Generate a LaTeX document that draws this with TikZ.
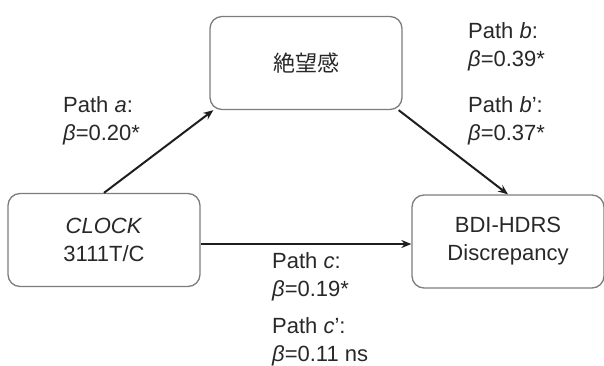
\documentclass[tikz,border=0pt]{standalone}
\usepackage{fontspec}
\setmainfont{Liberation Sans}
\newfontfamily\jpfont{Noto Sans CJK JP}
\usetikzlibrary{arrows.meta}
\definecolor{boxline}{RGB}{125,125,125}
\definecolor{inkgray}{RGB}{40,40,40}
\definecolor{arrowink}{RGB}{30,30,30}
\begin{document}
\begin{tikzpicture}[x=1pt,y=-1pt,
  every node/.style={font=\fontsize{22}{28}\selectfont, text=inkgray},
  varbox/.style={draw=boxline, line width=1.3pt, rounded corners=12pt,
    minimum width=192pt, minimum height=93pt, inner sep=0pt, align=center},
  pathlabel/.style={anchor=north west, inner sep=0pt, align=left},
  link/.style={draw=arrowink, line width=2pt, -{Stealth[length=10pt,width=8pt]}}]
\useasboundingbox (0,0) rectangle (604,365);

% variables
\node[varbox] (T) at (306,63) {\jpfont 絶望感};
\node[varbox] (L) at (104,240) {\textit{CLOCK}\\3111T/C};
\node[varbox] (R) at (508,241.5) {BDI-HDRS\\Discrepancy};

% paths
\draw[link] (L.north) -- ([xshift=4pt]T.south west);
\draw[link] ([xshift=-4pt]T.south east) -- (R.north);
\draw[link] ([yshift=-4pt]L.east) -- ([yshift=-2.5pt]R.west);

% coefficients
\node[pathlabel] (la) at (63,96) {Path \textit{a}:\\\textit{β}=0.20*};
\node[pathlabel] (lb) at (468,22) {Path \textit{b}:\\\textit{β}=0.39*};
\node[pathlabel] (lbp) at (468,96) {Path \textit{b}’:\\\textit{β}=0.37*};
\node[pathlabel] (lc) at (272,252) {Path \textit{c}:\\\textit{β}=0.19*};
\node[pathlabel] (lcp) at (272,317) {Path \textit{c}’:\\\textit{β}=0.11 ns};
\end{tikzpicture}
\end{document}
